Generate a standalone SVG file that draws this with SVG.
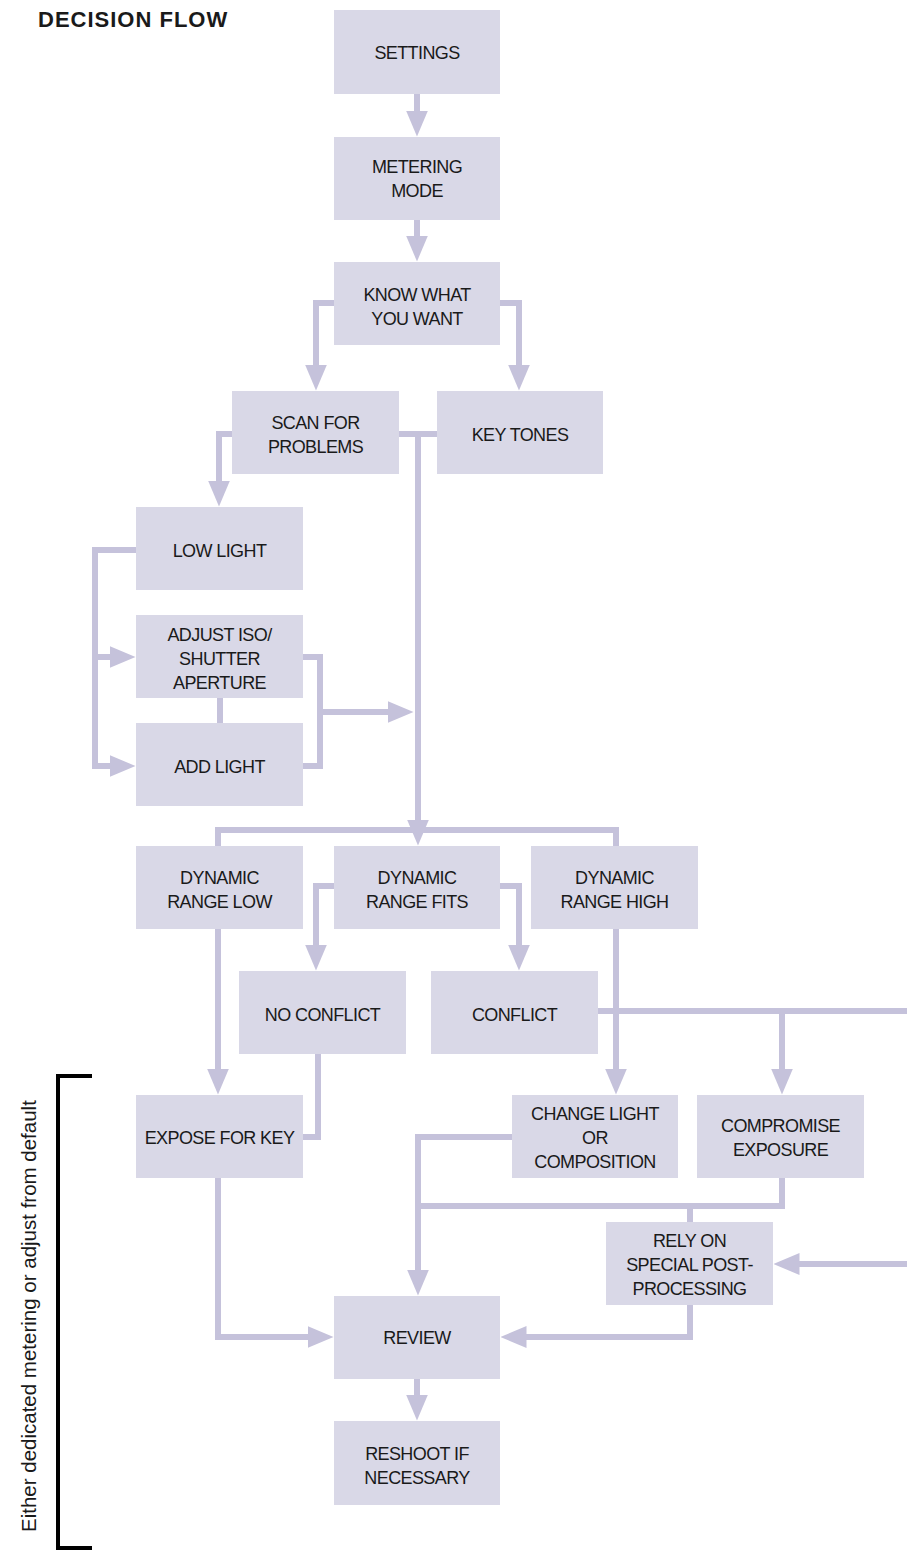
<svg xmlns="http://www.w3.org/2000/svg" width="907" height="1550" viewBox="0 0 907 1550">
<style>
.box{fill:#d9d8e7}
.lbl{font-family:"Liberation Sans",Arial,sans-serif;font-size:18px;letter-spacing:-0.6px;fill:#1a1a1a;text-anchor:middle}
.con{fill:none;stroke:#c5c2db;stroke-width:6;stroke-linejoin:miter}
.arr{marker-end:url(#ah)}
.title{font-family:"Liberation Sans",Arial,sans-serif;font-size:22px;font-weight:bold;fill:#1a1a1a;letter-spacing:1px}
.side{font-family:"Liberation Sans",Arial,sans-serif;font-size:20.5px;fill:#1a1a1a}
</style>
<defs>
<marker id="ah" markerUnits="userSpaceOnUse" markerWidth="26" markerHeight="22" refX="0.5" refY="11" orient="auto" viewBox="0 0 26 22">
<path d="M0,0 L26,11 L0,22 z" fill="#c5c2db"/>
</marker>
</defs>
<rect width="907" height="1550" fill="#ffffff"/>
<text class="title" x="38" y="27">DECISION FLOW</text>
<g id="connectors">
<path class="con arr" d="M417,94 V111"/>
<path class="con arr" d="M417,220 V236"/>
<path class="con arr" d="M334,303 H316 V365"/>
<path class="con arr" d="M500,303 H519 V365"/>
<path class="con" d="M399,434 H437"/>
<path class="con arr" d="M418,434 V820"/>
<path class="con" d="M218,846 V830 H616 V846"/>
<path class="con arr" d="M232,434 H219 V481"/>
<path class="con arr" d="M136,550 H95 V766 H110"/>
<path class="con arr" d="M95,657 H110"/>
<path class="con" d="M220,698 V723"/>
<path class="con" d="M303,657 H320 V766 H303"/>
<path class="con arr" d="M320,712 H388"/>
<path class="con arr" d="M334,886 H316 V945"/>
<path class="con arr" d="M500,886 H519 V945"/>
<path class="con arr" d="M218,929 V1069"/>
<path class="con arr" d="M616,929 V1069"/>
<path class="con" d="M598,1011 H907"/>
<path class="con arr" d="M782,1011 V1069"/>
<path class="con" d="M318,1054 V1137 H303"/>
<path class="con arr" d="M512,1137 H418 V1270"/>
<path class="con" d="M782,1178 V1206 H418"/>
<path class="con" d="M690,1206 V1222"/>
<path class="con arr" d="M907,1264 H799"/>
<path class="con arr" d="M690,1305 V1337 H526"/>
<path class="con arr" d="M218,1178 V1337 H308"/>
<path class="con arr" d="M417,1379 V1395"/>
</g>
<g id="n-settings"><rect class="box" x="334" y="10" width="166" height="84"/><text class="lbl" x="417" y="59">SETTINGS</text></g>
<g id="n-metering"><rect class="box" x="334" y="137" width="166" height="83"/><text class="lbl" x="417" y="173">METERING</text><text class="lbl" x="417" y="197">MODE</text></g>
<g id="n-know"><rect class="box" x="334" y="262" width="166" height="83"/><text class="lbl" x="417" y="301">KNOW WHAT</text><text class="lbl" x="417" y="325">YOU WANT</text></g>
<g id="n-scan"><rect class="box" x="232" y="391" width="167" height="83"/><text class="lbl" x="315.5" y="429">SCAN FOR</text><text class="lbl" x="315.5" y="453">PROBLEMS</text></g>
<g id="n-keytones"><rect class="box" x="437" y="391" width="166" height="83"/><text class="lbl" x="520" y="441">KEY TONES</text></g>
<g id="n-lowlight"><rect class="box" x="136" y="507" width="167" height="83"/><text class="lbl" x="219.5" y="557">LOW LIGHT</text></g>
<g id="n-adjust"><rect class="box" x="136" y="615" width="167" height="83"/><text class="lbl" x="219.5" y="641">ADJUST ISO/</text><text class="lbl" x="219.5" y="665">SHUTTER</text><text class="lbl" x="219.5" y="689">APERTURE</text></g>
<g id="n-addlight"><rect class="box" x="136" y="723" width="167" height="83"/><text class="lbl" x="219.5" y="773">ADD LIGHT</text></g>
<g id="n-drlow"><rect class="box" x="136" y="846" width="167" height="83"/><text class="lbl" x="219.5" y="884">DYNAMIC</text><text class="lbl" x="219.5" y="908">RANGE LOW</text></g>
<g id="n-drfits"><rect class="box" x="334" y="846" width="166" height="83"/><text class="lbl" x="417" y="884">DYNAMIC</text><text class="lbl" x="417" y="908">RANGE FITS</text></g>
<g id="n-drhigh"><rect class="box" x="531" y="846" width="167" height="83"/><text class="lbl" x="614.5" y="884">DYNAMIC</text><text class="lbl" x="614.5" y="908">RANGE HIGH</text></g>
<g id="n-noconflict"><rect class="box" x="239" y="971" width="167" height="83"/><text class="lbl" x="322.5" y="1021">NO CONFLICT</text></g>
<g id="n-conflict"><rect class="box" x="431" y="971" width="167" height="83"/><text class="lbl" x="514.5" y="1021">CONFLICT</text></g>
<g id="n-expose"><rect class="box" x="136" y="1095" width="167" height="83"/><text class="lbl" x="219.5" y="1144">EXPOSE FOR KEY</text></g>
<g id="n-change"><rect class="box" x="512" y="1095" width="166" height="83"/><text class="lbl" x="595" y="1120">CHANGE LIGHT</text><text class="lbl" x="595" y="1144">OR</text><text class="lbl" x="595" y="1168">COMPOSITION</text></g>
<g id="n-compromise"><rect class="box" x="697" y="1095" width="167" height="83"/><text class="lbl" x="780.5" y="1132">COMPROMISE</text><text class="lbl" x="780.5" y="1156">EXPOSURE</text></g>
<g id="n-rely"><rect class="box" x="606" y="1222" width="167" height="83"/><text class="lbl" x="689.5" y="1247">RELY ON</text><text class="lbl" x="689.5" y="1271">SPECIAL POST-</text><text class="lbl" x="689.5" y="1295">PROCESSING</text></g>
<g id="n-review"><rect class="box" x="334" y="1296" width="166" height="83"/><text class="lbl" x="417" y="1344">REVIEW</text></g>
<g id="n-reshoot"><rect class="box" x="334" y="1421" width="166" height="84"/><text class="lbl" x="417" y="1460">RESHOOT IF</text><text class="lbl" x="417" y="1484">NECESSARY</text></g>
<g id="bracket">
<path d="M92,1076 H58 V1548 H92" fill="none" stroke="#000000" stroke-width="4"/>
<text class="side" transform="translate(36,1532) rotate(-90)">Either dedicated metering or adjust from default</text>
</g>
</svg>
